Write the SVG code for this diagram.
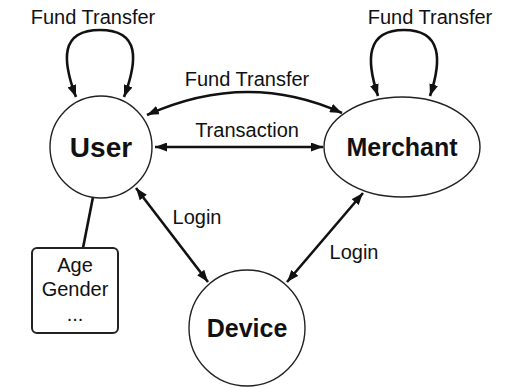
<svg xmlns="http://www.w3.org/2000/svg" width="505" height="388" viewBox="0 0 505 388">
  <style>
    .node { fill: #ffffff; stroke: #222; stroke-width: 1.4; }
    .box { fill: #ffffff; stroke: #222; stroke-width: 2; }
    .edge { fill: none; stroke: #111; stroke-width: 2.6; }
    .both { marker-start: url(#head); marker-end: url(#head); }
    .name { font-family: "Liberation Sans", Arial, sans-serif; font-weight: bold; fill: #111; text-anchor: middle; }
    .lbl { font-family: "Liberation Sans", Arial, sans-serif; font-size: 20px; fill: #111; text-anchor: middle; }
  </style>
  <defs>
    <marker id="head" viewBox="0 0 12 9" refX="12" refY="4.5" markerWidth="12" markerHeight="9" markerUnits="userSpaceOnUse" orient="auto-start-reverse">
      <path d="M0,0 L12,4.5 L0,9 z" fill="#111"/>
    </marker>
  </defs>

  <rect width="505" height="388" fill="#ffffff"/>

  <!-- connectors -->
  <g id="connectors">
    <path class="edge both" d="M 76 97 C 62 60, 60 30, 100 30 C 140 30, 138 60, 124 97"/>
    <path class="edge both" d="M 378 96 C 366 60, 366 30, 404 30 C 442 30, 442 60, 430 96"/>
    <path class="edge both" d="M 147 115 Q 247 70 342 113"/>
    <path class="edge both" d="M 155 147 L 323 147"/>
    <path class="edge both" d="M 136 188 L 208 282"/>
    <path class="edge both" d="M 363 193 L 287 282"/>
    <path class="edge" d="M 93 197 L 83 248"/>
  </g>

  <!-- edge labels -->
  <g id="edge-labels">
    <text class="lbl" x="93" y="24">Fund Transfer</text>
    <text class="lbl" x="430" y="24">Fund Transfer</text>
    <text class="lbl" x="247" y="86">Fund Transfer</text>
    <text class="lbl" x="247" y="137">Transaction</text>
    <text class="lbl" x="197" y="224">Login</text>
    <text class="lbl" x="354" y="259">Login</text>
  </g>

  <g id="user">
    <circle class="node" cx="101" cy="147" r="51"/>
    <text class="name" x="101" y="157" font-size="28">User</text>
  </g>

  <g id="merchant">
    <ellipse class="node" cx="402" cy="147" rx="78" ry="50"/>
    <text class="name" x="402" y="156" font-size="25">Merchant</text>
  </g>

  <g id="device">
    <circle class="node" cx="247" cy="328" r="58"/>
    <text class="name" x="247" y="337" font-size="25">Device</text>
  </g>

  <g id="attributes">
    <rect class="box" x="32" y="248" width="86" height="85" rx="5"/>
    <text class="lbl" x="75" y="272">Age</text>
    <text class="lbl" x="75" y="296">Gender</text>
    <text class="lbl" x="75" y="321">...</text>
  </g>
</svg>
